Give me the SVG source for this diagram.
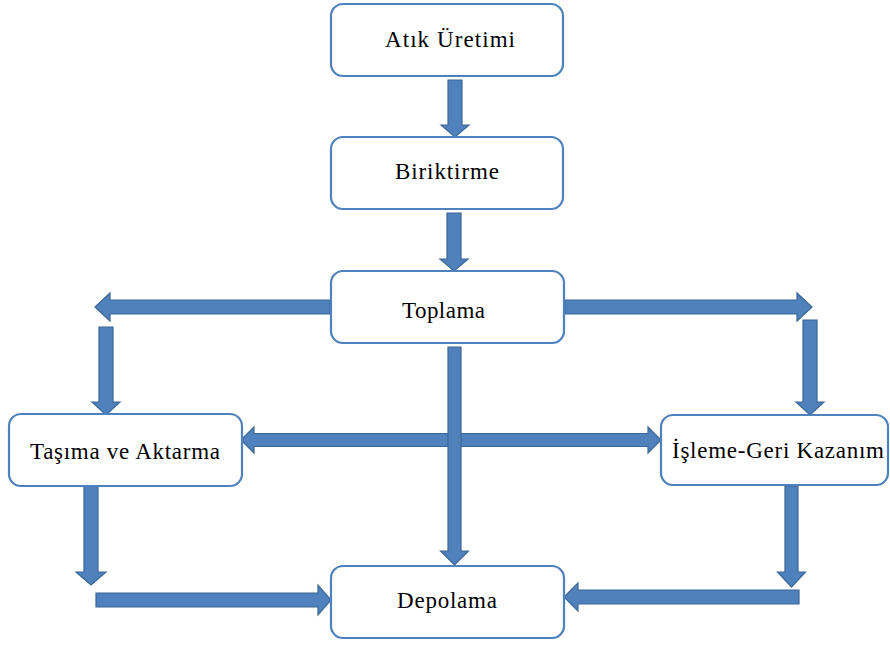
<svg xmlns="http://www.w3.org/2000/svg" width="890" height="646" viewBox="0 0 890 646">
  <style>
    .box { fill: #ffffff; stroke: #4F81BD; stroke-width: 2.2; }
    .lbl { font-family: "Liberation Serif", "Times New Roman", serif; font-size: 23px; fill: #000000; text-anchor: middle; }
    .arr { fill: #4F81BD; stroke: #3C6796; stroke-width: 1.2; stroke-linejoin: miter; }
  </style>
  <rect width="890" height="646" fill="#ffffff"/>

  <!-- block arrows between the stages -->
  <g id="connectors">
    <polygon class="arr" points="448,80 462,80 462,125 469,125 455,137 441,125 448,125"/>
    <polygon class="arr" points="447,213 461,213 461,259 468,259 454,271 440,259 447,259"/>
    <polygon class="arr" points="330,300 110,300 110,293 95,307 110,321 110,314 330,314"/>
    <polygon class="arr" points="99,327 113,327 113,402 120,402 106,415 92,402 99,402"/>
    <polygon class="arr" points="565,300 797,300 797,293 812,307 797,321 797,314 565,314"/>
    <polygon class="arr" points="803,320 817,320 817,402 824,402 810,415 796,402 803,402"/>
    <polygon class="arr" points="241,440 254,427 254,433.5 648,433.5 648,427 661,440 648,453 648,446.5 254,446.5 254,453"/>
    <polygon class="arr" points="448,347 461,347 461,551 468.5,551 454.5,565 440.5,551 448,551"/>
    <polygon class="arr" points="84,486 98,486 98,572 106,572 91,585 76,572 84,572"/>
    <polygon class="arr" points="96,593 318,593 318,585 331,600 318,615 318,607 96,607"/>
    <polygon class="arr" points="785,486 798,486 798,572 805.5,572 791.5,587 777.5,572 785,572"/>
    <polygon class="arr" points="799,590 578,590 578,583 564,597 578,611 578,604 799,604"/>
  </g>

  <g id="atik-uretimi">
    <rect class="box" x="331" y="4" width="232" height="72" rx="12"/>
    <text class="lbl" x="450" y="47" textLength="130" lengthAdjust="spacing">Atık Üretimi</text>
  </g>
  <g id="biriktirme">
    <rect class="box" x="331" y="137" width="232" height="72" rx="12"/>
    <text class="lbl" x="447" y="179" textLength="104" lengthAdjust="spacing">Biriktirme</text>
  </g>
  <g id="toplama">
    <rect class="box" x="331" y="271" width="233" height="72" rx="12"/>
    <text class="lbl" x="443.5" y="318" textLength="83" lengthAdjust="spacing">Toplama</text>
  </g>
  <g id="tasima-aktarma">
    <rect class="box" x="9" y="414" width="233" height="72" rx="12"/>
    <text class="lbl" x="125" y="459" textLength="190" lengthAdjust="spacing">Taşıma  ve Aktarma</text>
  </g>
  <g id="isleme-geri-kazanim">
    <rect class="box" x="661" y="415" width="227" height="70" rx="12"/>
    <text class="lbl" x="778" y="458" textLength="212" lengthAdjust="spacing">İşleme-Geri Kazanım</text>
  </g>
  <g id="depolama">
    <rect class="box" x="331" y="566" width="233" height="72" rx="12"/>
    <text class="lbl" x="447" y="608" textLength="100" lengthAdjust="spacing">Depolama</text>
  </g>
</svg>
